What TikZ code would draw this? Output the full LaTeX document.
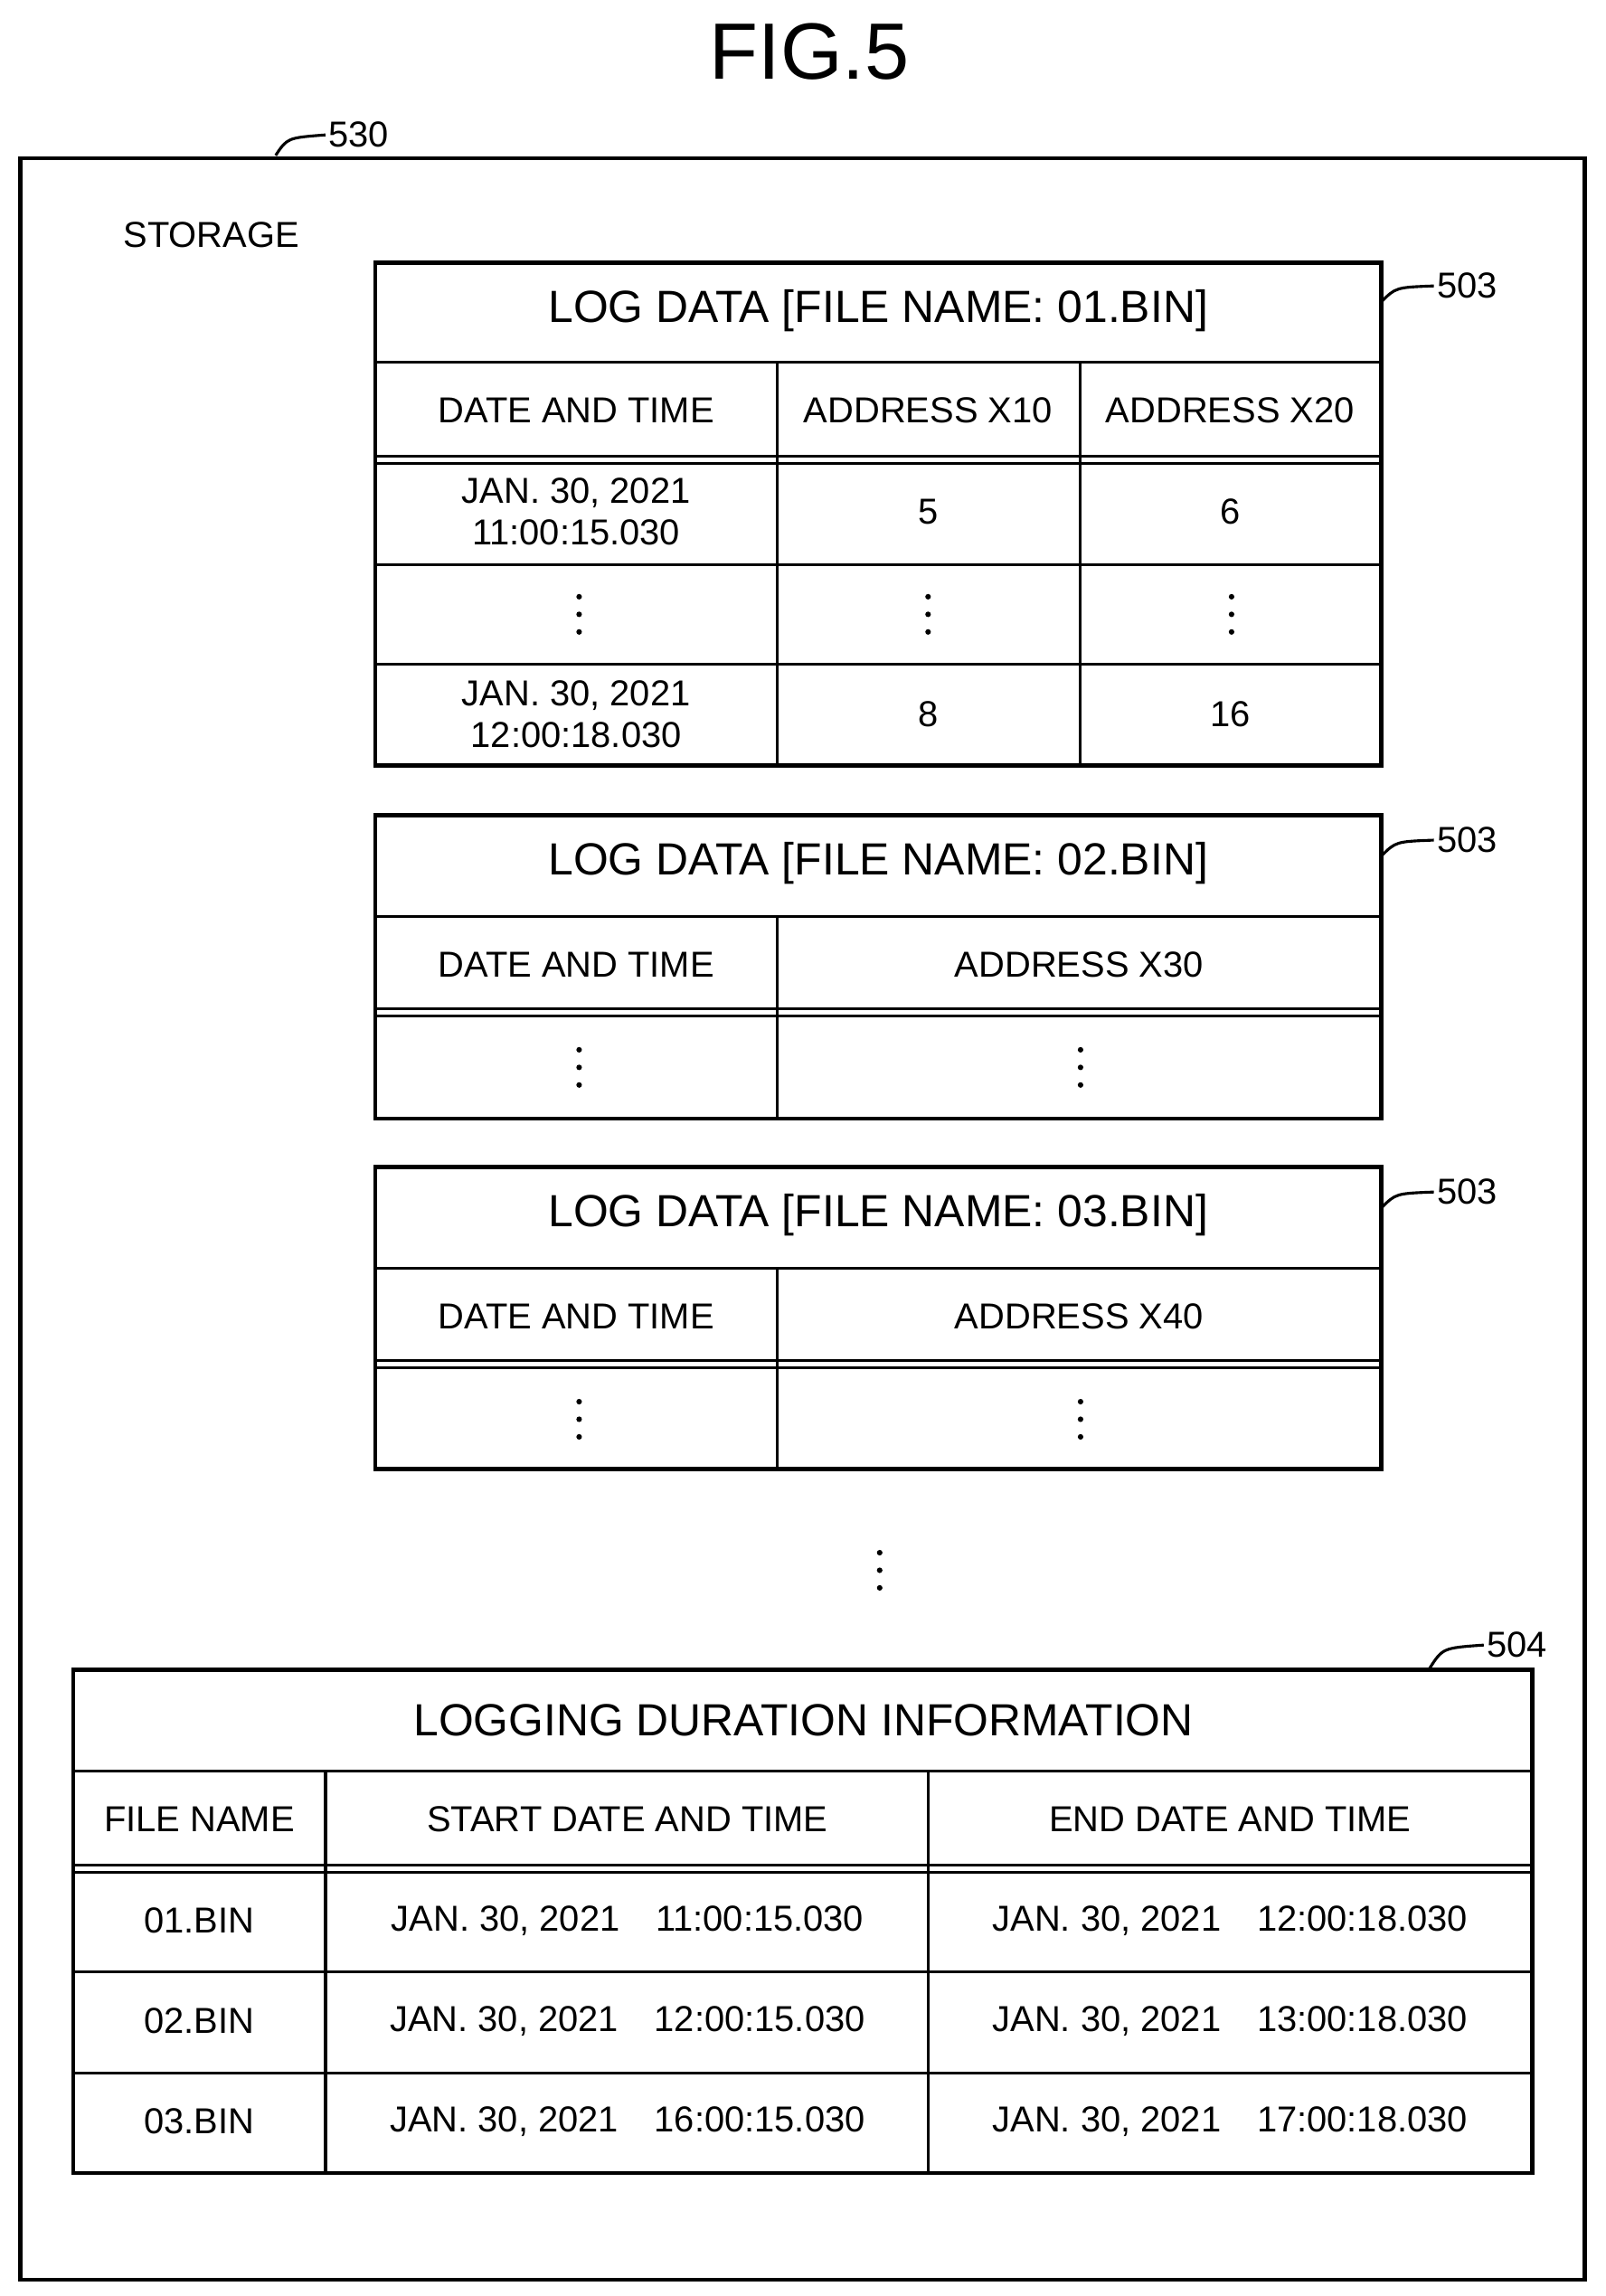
\documentclass[tikz,border=0pt]{standalone}
\usepackage{fontspec}
\setmainfont{Liberation Sans}
\tikzset{
  frame/.style={line width=1.6pt},
  grid/.style={line width=1.1pt},
  cell/.style={font=\fontsize{14}{16}\selectfont, align=center},
  head/.style={font=\fontsize{17.5}{20}\selectfont},
  refnum/.style={font=\fontsize{14}{16}\selectfont, anchor=west, inner sep=1pt},
}
\newcommand{\dotcol}[2]{
  \foreach \d in {-1, 0, 1}
    \fill (#1, #2 + 12*\d) circle (1.9);
}
\newcommand{\dbl}[3]{
  \draw [grid] (#1, #3) -- (#2, #3);
  \draw [grid] (#1, #3 + 5) -- (#2, #3 + 5);
}
\begin{document}
\begin{tikzpicture}[x=0.02cm, y=-0.02cm]
  \useasboundingbox (0, 0) rectangle (1095, 1566);
  \node (fig) at (552, 35) {\fontsize{31}{34}\selectfont FIG.5};
  \draw [frame] (14, 108) rectangle (1081, 1555);
  \node [refnum] (n530) at (222, 92) {530};
  \draw [grid] (188, 106) .. controls (196, 94) .. (n530.west);
  \node [cell, anchor=west] (stor) at (78, 160) {STORAGE};
  % log data 01
  \draw [frame] (256, 179) rectangle (942, 522);
  \draw [grid] (256, 247) -- (942, 247);
  \dbl{256}{942}{311}
  \draw [grid] (256, 385) -- (942, 385);
  \draw [grid] (256, 453) -- (942, 453);
  \draw [grid] (530, 247) -- (530, 522);
  \draw [grid] (737, 247) -- (737, 522);
  \node [head] (t1) at (599, 212) {LOG DATA [FILE NAME: 01.BIN]};
  \node [cell] (t1a) at (393, 280) {DATE AND TIME};
  \node [cell] (t1b) at (633, 280) {ADDRESS X10};
  \node [cell] (t1c) at (839, 280) {ADDRESS X20};
  \node [cell] (t1d) at (393, 349) {JAN. 30, 2021\\11:00:15.030};
  \node [cell] (t1e) at (633, 349) {5};
  \node [cell] (t1f) at (839, 349) {6};
  \dotcol{395}{419} \dotcol{633}{419} \dotcol{840}{419}
  \node [cell] (t1g) at (393, 487) {JAN. 30, 2021\\12:00:18.030};
  \node [cell] (t1h) at (633, 487) {8};
  \node [cell] (t1i) at (839, 487) {16};
  \node [refnum] (n503a) at (978, 195) {503};
  \draw [grid] (942, 206) .. controls (952, 196) .. (n503a.west);
  % log data 02
  \draw [frame] (256, 556) rectangle (942, 763);
  \draw [grid] (256, 625) -- (942, 625);
  \dbl{256}{942}{688}
  \draw [grid] (530, 625) -- (530, 763);
  \node [head] (t2) at (599, 589) {LOG DATA [FILE NAME: 02.BIN]};
  \node [cell] (t2a) at (393, 658) {DATE AND TIME};
  \node [cell] (t2b) at (736, 658) {ADDRESS X30};
  \dotcol{395}{728} \dotcol{737}{728}
  \node [refnum] (n503b) at (978, 573) {503};
  \draw [grid] (942, 584) .. controls (952, 574) .. (n503b.west);
  % log data 03
  \draw [frame] (256, 796) rectangle (942, 1002);
  \draw [grid] (256, 865) -- (942, 865);
  \dbl{256}{942}{928}
  \draw [grid] (530, 865) -- (530, 1002);
  \node [head] (t3) at (599, 829) {LOG DATA [FILE NAME: 03.BIN]};
  \node [cell] (t3a) at (393, 898) {DATE AND TIME};
  \node [cell] (t3b) at (736, 898) {ADDRESS X40};
  \dotcol{395}{968} \dotcol{737}{968}
  \node [refnum] (n503c) at (978, 813) {503};
  \draw [grid] (942, 824) .. controls (952, 814) .. (n503c.west);
  \dotcol{600}{1071}
  % logging duration
  \draw [frame] (50, 1139) rectangle (1045, 1482);
  \draw [grid] (50, 1208) -- (1045, 1208);
  \dbl{50}{1045}{1272}
  \draw [grid] (50, 1345) -- (1045, 1345);
  \draw [grid] (50, 1414) -- (1045, 1414);
  \draw [grid] (222, 1208) -- (222, 1482);
  \draw [grid] (633, 1208) -- (633, 1482);
  \node [head] (t4) at (548, 1173) {LOGGING DURATION INFORMATION};
  \node [cell] (t4a) at (136, 1241) {FILE NAME};
  \node [cell] (t4b) at (428, 1241) {START DATE AND TIME};
  \node [cell] (t4c) at (839, 1241) {END DATE AND TIME};
  \foreach \f/\s/\e [count=\i] in {01/11:00:15.030/12:00:18.030,
      02/12:00:15.030/13:00:18.030, 03/16:00:15.030/17:00:18.030}
  {
    \pgfmathsetmacro{\y}{1310 + (\i - 1)*68.5};
    \node [cell] (f\i) at (136, \y) {\f.BIN};
    \node [cell] (s\i) at (428, \y) {JAN. 30, 2021\quad\s};
    \node [cell] (e\i) at (839, \y) {JAN. 30, 2021\quad\e};
  }
  \node [refnum] (n504) at (1012, 1122) {504};
  \draw [grid] (975, 1138) .. controls (984, 1124) .. (n504.west);
\end{tikzpicture}
\end{document}
